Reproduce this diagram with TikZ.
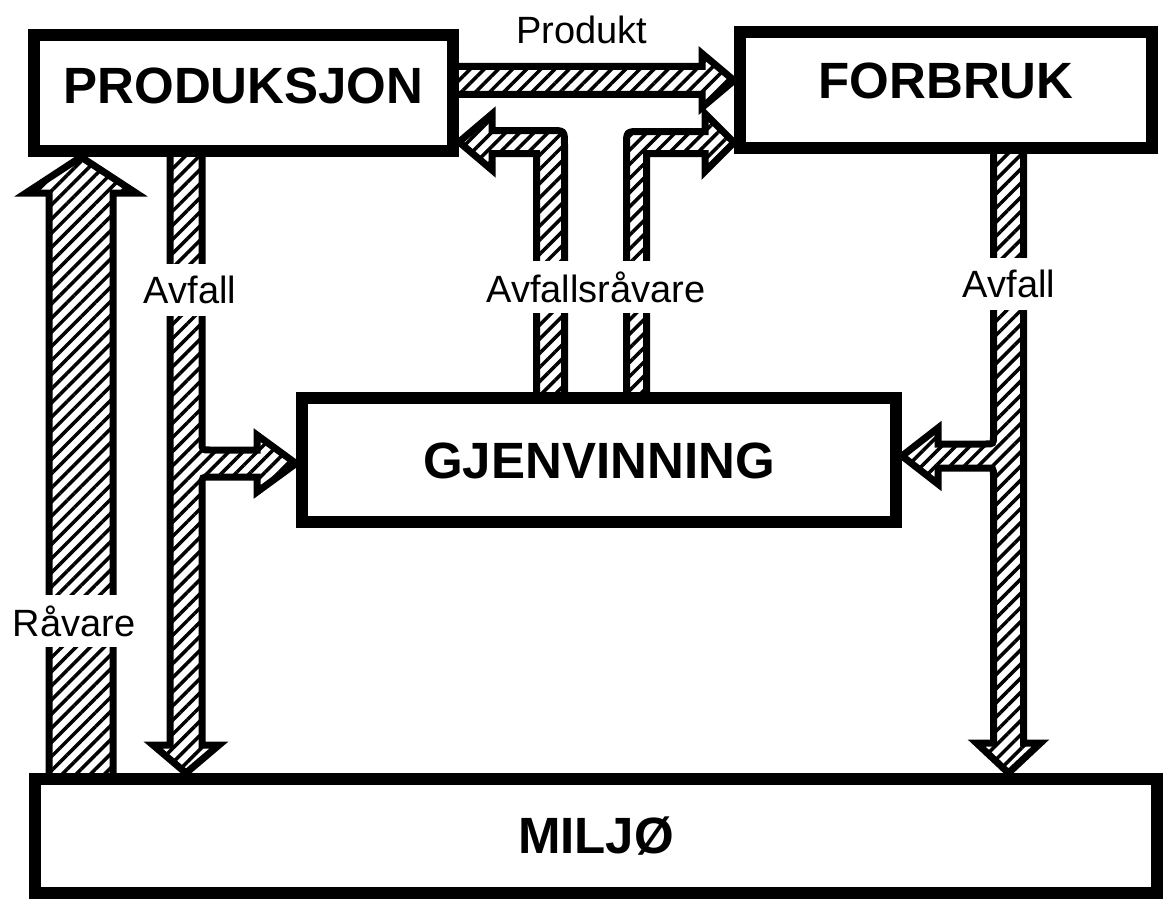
\documentclass[tikz,border=0pt]{standalone}
\usepackage{fontspec}
\setmainfont{Liberation Sans}
\usetikzlibrary{patterns.meta,calc}
\tikzset{
  box/.style={draw, line width=12pt, fill=white, rectangle, inner sep=0pt,
    font=\bfseries\fontsize{51}{55}\selectfont, text height=36.5pt},
  flow/.style={draw, line width=7pt, line join=miter,
    pattern={Lines[angle=45,distance=10pt,line width=3.5pt]}},
  lbl/.style={font=\fontsize{38}{42}\selectfont, inner sep=3pt},
  cutlbl/.style={lbl, fill=white, minimum height=52pt}
}
\begin{document}
\begin{tikzpicture}[x=1pt,y=-1pt]
\useasboundingbox (0,0) rectangle (1163,907);
% boxes (placed first so that anchors exist; redrawn on top later)
\path
  node[box, minimum width=419pt, minimum height=116pt, text depth=16pt] (prod) at (243.5,93) {}
  node[box, minimum width=412pt, minimum height=116pt, text depth=20pt] (forb) at (946,90) {}
  node[box, minimum width=594pt, minimum height=124pt, text depth=0pt] (gjen) at (599,460) {}
  node[box, minimum width=1122pt, minimum height=114pt, text depth=2pt] (milj) at (596,836) {};

% Raavare: Miljoe -> Produksjon
\draw[flow] (49,0 |- milj.north) -- (49,193) -- (26,193) -- (81,0 |- prod.south)
  -- (136,193) -- (113,193) -- (113,0 |- milj.north);

% Avfall (left): Produksjon -> Miljoe, branch -> Gjenvinning
\draw[flow] (170,0 |- prod.south) -- (170,745) -- (153,745) -- (186,0 |- milj.north)
  -- (219,745) -- (202,745) -- (202,485) .. controls (202,477) .. (210,477)
  -- (257,477) -- (257,492) -- (gjen.west |- 0,463.5) -- (257,435) -- (257,450)
  -- (210,450) .. controls (202,450) .. (202,442) -- (202,0 |- prod.south);

% Avfall (right): Forbruk -> Miljoe, branch -> Gjenvinning
\draw[flow] (1023.5,0 |- forb.south) -- (1023.5,743) -- (1040.5,743) -- (1008.5,0 |- milj.north)
  -- (976.5,743) -- (993.5,743) -- (993.5,476) .. controls (993.5,468) .. (985.5,468)
  -- (938,468) -- (938,484) -- (gjen.east |- 0,456) -- (938,428) -- (938,444)
  -- (985.5,444) .. controls (993.5,444) .. (993.5,436) -- (993.5,0 |- forb.south);

% Produkt: Produksjon -> Forbruk
\draw[flow] (prod.east |- 0,66.5) -- (702,66.5) -- (702,53.5) -- (forb.west |- 0,80.5)
  -- (702,107.5) -- (702,94.5) -- (prod.east |- 0,94.5);

% Avfallsraavare: Gjenvinning -> Produksjon
\draw[flow] (536.5,0 |- gjen.north) -- (536.5,153.5) -- (492,153.5) -- (492,170)
  -- (prod.east |- 0,142) -- (492,114) -- (492,130.5) -- (550.5,130.5)
  .. controls (564.5,130.5) .. (564.5,144.5) -- (564.5,0 |- gjen.north);

% Avfallsraavare: Gjenvinning -> Forbruk
\draw[flow] (626.5,0 |- gjen.north) -- (626.5,145.5) .. controls (626.5,131.5) .. (640.5,131.5)
  -- (705,131.5) -- (705,113.5) -- (forb.west |- 0,142.5) -- (705,171.5) -- (705,153.5)
  -- (646.5,153.5) -- (646.5,0 |- gjen.north);

% labels
\node[lbl] (lprodukt) at (582,30) {Produkt};
\node[cutlbl] (lavf1) at (190,290) {Avfall};
\node[cutlbl] (lavfr) at (596,287) {Avfallsråvare};
\node[cutlbl] (lavf2) at (1009,284) {Avfall};
\node[cutlbl] (lrav) at (74,621) {Råvare};

% boxes on top
\node[box, minimum width=419pt, minimum height=116pt, text depth=16pt] (prodB) at (243.5,93) {PRODUKSJON};
\node[box, minimum width=412pt, minimum height=116pt, text depth=20pt] (forbB) at (946,90) {FORBRUK};
\node[box, minimum width=594pt, minimum height=124pt, text depth=0pt] (gjenB) at (599,460) {GJENVINNING};
\node[box, minimum width=1122pt, minimum height=114pt, text depth=2pt] (miljB) at (596,836) {MILJØ};
\end{tikzpicture}
\end{document}
